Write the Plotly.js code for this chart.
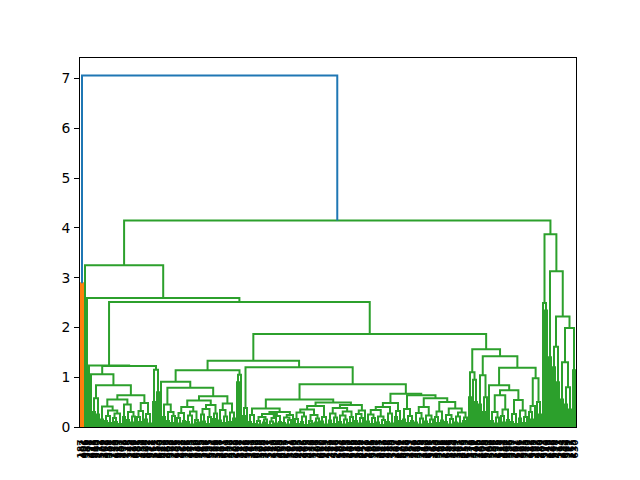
<!DOCTYPE html>
<html><head><meta charset="utf-8">
<script src="https://cdn.plot.ly/plotly-3.0.1.min.js"></script>
<style>html,body{margin:0;padding:0;background:#fff}#chart{width:640px;height:480px}</style>
</head><body><div id="chart"></div>
<script>
// Dendrogram encoded as the merge height between each pair of neighbouring leaves
// (left to right, leaf order as drawn). N leaves -> N-1 heights.
const mergeHeights = [
  2.89, 7.06, 3.25, 2.59, 1.235, 1.06, 0.30, 0.58, 0.25, 0.84,
  0.15, 0.41, 0.12, 0.22, 0.08, 0.33, 0.18, 0.10, 0.27, 0.06,
  0.55, 0.20, 0.45, 0.14, 0.30, 0.09, 0.21, 0.64, 0.20, 0.10,
  0.32, 0.48, 0.15, 0.26, 0.07, 1.225, 0.50, 1.15, 0.70, 2.51,
  0.91, 0.20, 0.45, 0.12, 0.30, 0.08, 0.22, 0.79, 0.18, 0.07,
  0.28, 0.12, 0.40, 0.10, 0.23, 0.05, 0.31, 0.14, 0.09, 0.53,
  0.25, 0.11, 0.36, 0.06, 0.20, 0.44, 0.16, 0.27, 0.62, 0.13,
  0.34, 0.08, 0.21, 0.47, 0.10, 0.29, 0.17, 1.14, 0.90, 1.05,
  1.33, 0.22, 0.38, 1.20, 0.10, 0.24, 0.06, 0.37, 0.12, 0.05,
  0.20, 0.09, 0.15, 0.26, 0.04, 0.11, 0.18, 0.07, 0.22, 0.10,
  0.30, 0.08, 0.19, 0.05, 0.14, 0.24, 0.55, 0.16, 0.06, 0.29,
  0.10, 0.21, 0.04, 0.35, 0.12, 0.07, 0.24, 0.09, 0.17, 0.42,
  0.11, 0.20, 0.05, 0.49, 0.13, 0.27, 0.06, 0.19, 0.38, 0.10,
  0.23, 0.05, 0.15, 0.31, 0.08, 0.20, 0.44, 0.12, 0.26, 0.07,
  0.18, 0.33, 0.86, 0.11, 0.25, 0.06, 0.18, 0.34, 0.09, 0.21,
  0.04, 0.14, 0.40, 0.10, 0.27, 0.07, 0.48, 0.20, 0.32, 0.12,
  0.67, 0.15, 0.36, 0.08, 0.22, 0.12, 0.64, 0.09, 0.28, 0.05,
  0.17, 0.40, 0.11, 0.23, 0.06, 0.15, 0.58, 0.20, 0.08, 0.31,
  0.13, 0.50, 0.10, 0.24, 0.05, 0.16, 0.37, 0.09, 0.21, 0.07,
  0.29, 0.12, 0.19, 1.87, 0.60, 1.10, 0.95, 0.50, 1.56, 0.45,
  1.04, 0.30, 0.60, 1.42, 0.84, 0.12, 0.30, 0.07, 0.19, 0.64,
  0.22, 0.09, 0.35, 0.14, 0.74, 0.10, 0.26, 0.06, 0.54, 0.17,
  0.33, 0.08, 0.20, 1.19, 0.30, 0.15, 0.42, 0.98, 0.50, 0.25,
  4.15, 2.49, 2.34, 3.87, 1.40, 3.13, 1.20, 1.61, 0.90, 2.22,
  0.55, 1.30, 0.45, 0.80, 0.35, 1.99, 1.14
];

// Leaf labels (observation ids; unreadable in the reference, estimated)
const leafLabels = [
  187,402,906,533,298,471,644,815,390,212,577,109,463,326,558,701,
  244,139,619,883,357,492,170,728,545,273,416,497,688,205,331,459,
  126,592,637,378,264,511,153,630,689,447,219,365,908,574,292,136,
  603,251,428,964,517,186,343,675,112,479,230,396,745,562,318,197,
  655,522,384,276,501,148,437,793,611,259,352,579,528,204,669,118,
  471,287,446,598,333,161,419,352,639,225,506,174,362,787,553,241,
  410,130,586,303,669,452,215,627,101,374,266,539,933,485,192,346,
  660,375,424,238,570,121,309,497,660,616,283,441,157,389,413,548,
  269,683,104,466,223,355,241,608,315,178,532,895,448,257,621,140,
  381,626,559,294,167,435,381,647,210,488,336,755,580,247,404,116,
  672,301,962,520,183,457,234,369,318,595,278,143,412,299,636,321,
  165,493,349,567,228,398,124,654,286,535,474,199,341,587,472,429,
  255,612,133,376,310,541,296,180,468,106,623,349,267,509,236,392,
  155,678,313,484,444,207,556,529,387,262,601,146,421,591,535,280,
  172,642,305,257,482,220,359,603,574,249,415,128,666,338,477,513,
  194,453,842,589,271,367,115,630
].map(String);

const yTicks = [0, 1, 2, 3, 4, 5, 6, 7];
const colorThreshold = 0.7 * Math.max(...mergeHeights);
const aboveColor = '#1f77b4';
const clusterColors = ['#ff7f0e', '#2ca02c', '#d62728', '#9467bd'];

const N = mergeHeights.length + 1;

function build(lo, hi) {
  if (lo === hi) return {x: 5 + 10 * lo, h: 0, leaf: true};
  let m = lo;
  for (let j = lo; j < hi; j++) if (mergeHeights[j] > mergeHeights[m]) m = j;
  const L = build(lo, m), R = build(m + 1, hi);
  const h = mergeHeights[m];
  return {x: (L.x + R.x) / 2, h: h, L: L, R: R, leaf: false};
}
const root = build(0, N - 1);

const byColor = {};
let clusterIdx = 0;
function paint(node, color) {
  if (node.leaf) return;
  let c = color;
  if (c === null && node.h <= colorThreshold) {
    c = clusterColors[clusterIdx % clusterColors.length];
    clusterIdx++;
  }
  const col = c === null ? aboveColor : c;
  if (!byColor[col]) byColor[col] = {x: [], y: []};
  const s = byColor[col];
  s.x.push(node.L.x, node.L.x, node.R.x, node.R.x, null);
  s.y.push(node.L.h, node.h, node.h, node.R.h, null);
  paint(node.L, c);
  paint(node.R, c);
}
paint(root, null);

const order = clusterColors.concat([aboveColor]);
const traces = order.filter(c => byColor[c]).map(c => ({
  type: 'scatter', mode: 'lines', x: byColor[c].x, y: byColor[c].y,
  line: {color: c, width: 2}, hoverinfo: 'skip', showlegend: false
}));

const leafPos = [];
for (let i = 0; i < N; i++) leafPos.push(5 + 10 * i);

const layout = {
  width: 640, height: 480,
  margin: {l: 80, r: 64, t: 58, b: 53, pad: 0},
  paper_bgcolor: '#ffffff', plot_bgcolor: '#ffffff',
  font: {family: 'DejaVu Sans', color: '#000000'},
  xaxis: {
    range: [0, N * 10], showgrid: false, zeroline: false,
    showline: true, linecolor: '#000000', linewidth: 1, mirror: true,
    tickmode: 'array', tickvals: leafPos, ticktext: leafLabels,
    tickangle: -90, ticks: '', ticklabelstandoff: 8,
    tickfont: {family: 'DejaVu Sans', size: 9, color: '#000000', weight: 'bold'}
  },
  yaxis: {
    range: [0, 1.05 * Math.max(...mergeHeights)], showgrid: false, zeroline: false,
    showline: true, linecolor: '#000000', linewidth: 1, mirror: true,
    tickmode: 'array', tickvals: yTicks, ticktext: yTicks.map(String),
    ticks: 'outside', ticklen: 5, tickwidth: 1, tickcolor: '#000000',
    ticklabelstandoff: 1,
    tickfont: {family: 'DejaVu Sans', size: 13.9, color: '#000000'}
  }
};

Plotly.newPlot('chart', traces, layout, {displayModeBar: false, staticPlot: true});
</script>
</body></html>
